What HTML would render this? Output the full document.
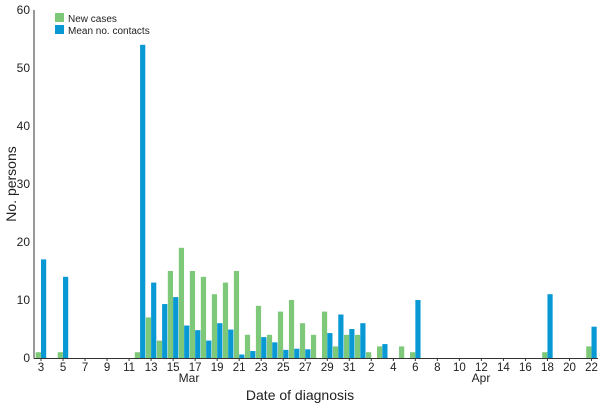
<!DOCTYPE html>
<html><head><style>
body{margin:0;background:#fff;}
svg text{font-family:"Liberation Sans",sans-serif;fill:#222;}
</style></head><body>
<svg width="600" height="405" xmlns="http://www.w3.org/2000/svg" id="c">
<g id="bars"></g>
<line x1="34" y1="10" x2="34" y2="358.5" stroke="#333" stroke-width="1"/>
<line x1="34" y1="358.5" x2="598" y2="358.5" stroke="#333" stroke-width="1"/>
<g font-size="12" text-anchor="end">
<text x="30" y="362">0</text><text x="30" y="304">10</text><text x="30" y="246">20</text>
<text x="30" y="188">30</text><text x="30" y="130">40</text><text x="30" y="72">50</text><text x="30" y="14">60</text>
</g>
<g id="ticks" font-size="11.5" text-anchor="middle"></g>
<text x="189" y="382" font-size="12" text-anchor="middle">Mar</text>
<text x="481" y="382" font-size="12" text-anchor="middle">Apr</text>
<text x="300" y="400" font-size="14" text-anchor="middle">Date of diagnosis</text>
<text transform="translate(16,184) rotate(-90)" font-size="14" text-anchor="middle">No. persons</text>
<rect x="55" y="13" width="9" height="9" fill="#7ec87a"/>
<rect x="55" y="25" width="9" height="9" fill="#0899d5"/>
<text x="68" y="22" font-size="10">New cases</text>
<text x="68" y="34" font-size="10">Mean no. contacts</text>
</svg>
<script>
var d={0:[1,17],2:[1,14],9:[1,54],10:[7,13],11:[3,9.3],12:[15,10.5],13:[19,5.6],14:[15,4.8],15:[14,3],16:[11,6],17:[13,4.9],18:[15,0.6],19:[4,1.2],20:[9,3.6],21:[4,2.7],22:[8,1.4],23:[10,1.6],24:[6,1.5],25:[4,0],26:[8,4.3],27:[2,7.5],28:[4,5],29:[4,6],30:[1,0],31:[2,2.4],33:[2,0],34:[1,10],46:[1,11],50:[2,5.4]};
var ns="http://www.w3.org/2000/svg",b=document.getElementById("bars"),t=document.getElementById("ticks");
function r(x,h,c){if(h<=0)return;var e=document.createElementNS(ns,"rect");e.setAttribute("x",x);e.setAttribute("y",358-h*5.8);e.setAttribute("width",5.2);e.setAttribute("height",h*5.8);e.setAttribute("fill",c);b.appendChild(e);}
for(var k in d){var cx=41+11.01*k;r(cx-5.3,d[k][0],"#7ec87a");r(cx,d[k][1],"#0899d5");}
for(var i=0;i<=50;i+=2){var cx=41+11.01*i;var day=i<=28?3+i:i-28;var e=document.createElementNS(ns,"text");e.setAttribute("x",cx);e.setAttribute("y",371);e.textContent=day;t.appendChild(e);
var l=document.createElementNS(ns,"line");l.setAttribute("x1",cx);l.setAttribute("x2",cx);l.setAttribute("y1",358);l.setAttribute("y2",361);l.setAttribute("stroke","#333");t.appendChild(l);}
</script>
</body></html>
